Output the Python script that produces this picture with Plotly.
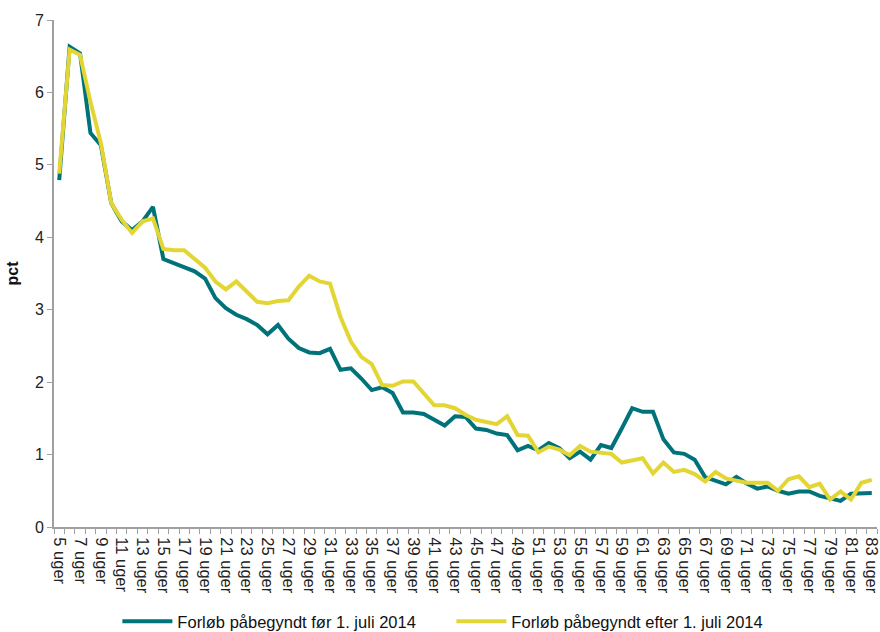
import plotly.graph_objects as go

weeks = [f"{w} uger" for w in range(5, 84)]

foer_2014 = [4.79, 6.63, 6.54, 5.44, 5.27, 4.47, 4.22, 4.10, 4.22, 4.42,
             3.70, 3.64, 3.59, 3.53, 3.43, 3.16, 3.02, 2.93, 2.87, 2.79,
             2.66, 2.79, 2.60, 2.47, 2.41, 2.40, 2.46, 2.17, 2.19, 2.05,
             1.89, 1.93, 1.85, 1.58, 1.58, 1.56, 1.48, 1.40, 1.53, 1.52,
             1.36, 1.34, 1.29, 1.27, 1.06, 1.12, 1.06, 1.16, 1.09, 0.95,
             1.04, 0.93, 1.13, 1.09, 1.36, 1.64, 1.59, 1.59, 1.21, 1.03,
             1.01, 0.93, 0.69, 0.64, 0.59, 0.69, 0.60, 0.53, 0.56, 0.50,
             0.46, 0.49, 0.49, 0.43, 0.40, 0.36, 0.46, 0.47, 0.47]

efter_2014 = [4.88, 6.59, 6.52, 5.87, 5.30, 4.47, 4.24, 4.06, 4.22, 4.26,
              3.84, 3.82, 3.82, 3.70, 3.58, 3.39, 3.28, 3.39, 3.25, 3.11,
              3.09, 3.12, 3.13, 3.32, 3.47, 3.39, 3.36, 2.90, 2.56, 2.35,
              2.25, 1.96, 1.95, 2.01, 2.01, 1.85, 1.68, 1.68, 1.64, 1.55,
              1.48, 1.45, 1.42, 1.53, 1.27, 1.26, 1.03, 1.11, 1.07, 0.99,
              1.12, 1.04, 1.02, 1.01, 0.89, 0.92, 0.95, 0.74, 0.89, 0.76,
              0.79, 0.73, 0.63, 0.76, 0.67, 0.64, 0.61, 0.61, 0.61, 0.50,
              0.66, 0.70, 0.55, 0.60, 0.38, 0.49, 0.38, 0.61, 0.65]

y_ticks = [0, 1, 2, 3, 4, 5, 6, 7]

x_idx = list(range(len(weeks)))
label_idx = x_idx[::2]
label_txt = weeks[::2]

fig = go.Figure()
fig.add_trace(go.Scatter(x=x_idx, y=foer_2014, mode="lines",
                         name="Forløb påbegyndt før 1. juli 2014",
                         line=dict(color="#00737A", width=4)))
fig.add_trace(go.Scatter(x=x_idx, y=efter_2014, mode="lines",
                         name="Forløb påbegyndt efter 1. juli 2014",
                         line=dict(color="#E3D634", width=4)))

fig.update_layout(
    width=880, height=632,
    margin=dict(l=54, r=3, t=20, b=105, autoexpand=False),
    paper_bgcolor="white", plot_bgcolor="white",
    font=dict(family="Liberation Sans, Arial, sans-serif", color="#222222", size=16),
    showlegend=True,
    hovermode=False,
    legend=dict(orientation="h", x=0.077, xanchor="left", y=-0.152, yanchor="top",
                font=dict(size=16.5, color="#111111"), itemwidth=50,
                entrywidth=269, traceorder="normal"),
)
fig.update_xaxes(
    automargin=False,
    range=[-0.5, len(weeks) - 0.5],
    tickmode="array", tickvals=label_idx, ticktext=label_txt,
    tickangle=90, tickfont=dict(size=16.5, color="#222222"),
    ticklabelstandoff=5, ticklabeloverflow="allow",
    ticks="", showgrid=False, zeroline=False,
    showline=True, linecolor="#A0A0A0", linewidth=2,
    minor=dict(tickmode="linear", tick0=-0.5, dtick=1, ticks="outside",
               ticklen=5, tickcolor="#A0A0A0", tickwidth=1, showgrid=False),
)
fig.update_yaxes(
    automargin=False,
    range=[0, 7], tickmode="array", tickvals=y_ticks,
    ticks="outside", ticklen=5, tickcolor="#A0A0A0", tickwidth=1,
    showgrid=False, zeroline=False,
    showline=True, linecolor="#A0A0A0", linewidth=2,
    tickfont=dict(size=16, color="#222222"),
    title=dict(text="<b>pct</b>", font=dict(size=16, color="#111111"), standoff=12),
)

page_fix = (
    "var s=document.createElement('style');"
    "s.innerHTML='html,body{margin:0;padding:0;overflow:hidden;"
    "width:880px;height:632px;} .plotly-graph-div{overflow:hidden;}';"
    "document.head.appendChild(s);"
)

fig.write_html("out.html", post_script=page_fix,
               config={"displayModeBar": False})
